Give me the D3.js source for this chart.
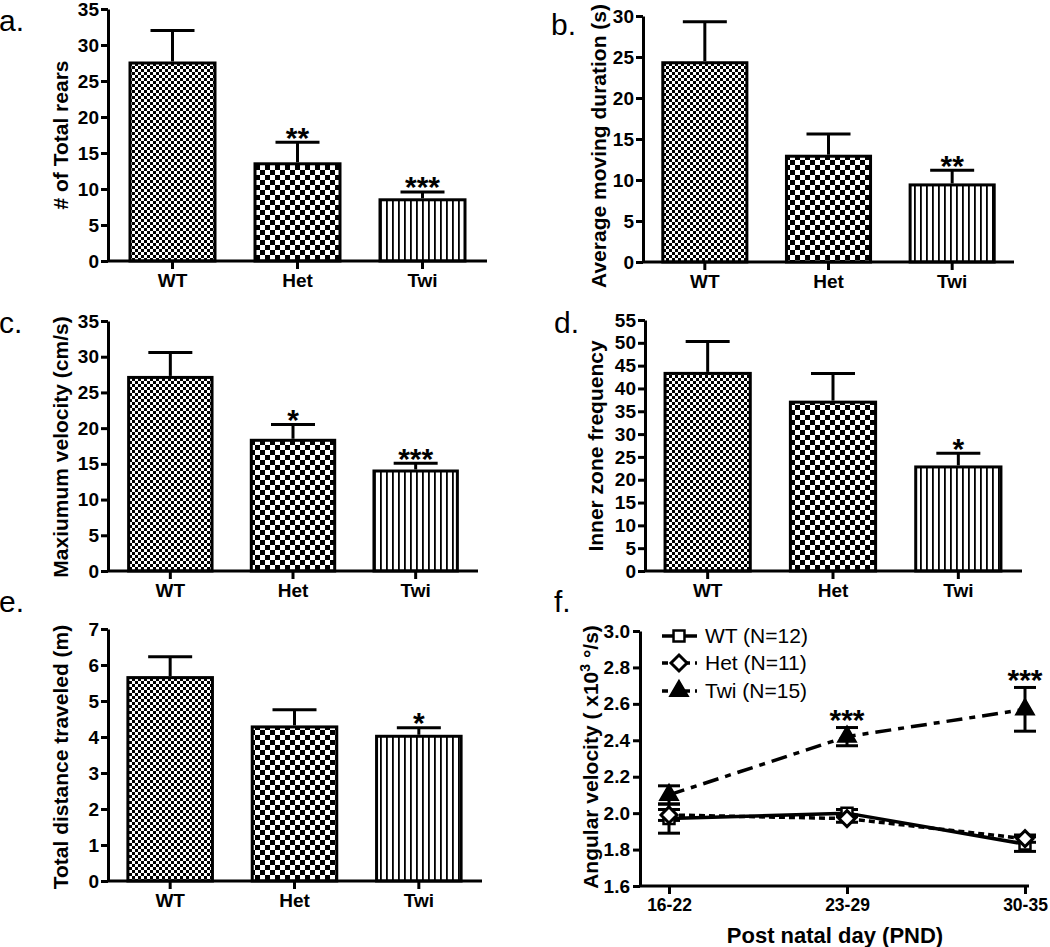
<!DOCTYPE html>
<html>
<head>
<meta charset="utf-8">
<script src="https://cdn.jsdelivr.net/npm/d3@7"></script>
<style>
  html, body { margin: 0; padding: 0; background: #fff; }
  svg { display: block; }
</style>
</head>
<body>
<div id="chart"></div>
<script>
// ---- data ----
const groups = ['WT', 'Het', 'Twi'];

const rearsMean = [27.5, 13.5, 8.5];
const rearsErr = [4.5, 3.0, 1.1];
const rearsStars = ['', '**', '***'];

const durationMean = [24.3, 12.9, 9.4];
const durationErr = [5.0, 2.7, 1.8];
const durationStars = ['', '', '**'];

const velocityMean = [27.1, 18.3, 14.0];
const velocityErr = [3.5, 2.2, 1.1];
const velocityStars = ['', '*', '***'];

const innerMean = [43.3, 37.0, 22.8];
const innerErr = [7.0, 6.3, 3.0];
const innerStars = ['', '', '*'];

const distanceMean = [5.65, 4.28, 4.02];
const distanceErr = [0.58, 0.48, 0.24];
const distanceStars = ['', '', '*'];

const pndLabels = ['16-22', '23-29', '30-35'];
const wtAngular = [1.97, 2.00, 1.83];
const wtAngularErr = [0.08, 0.02, 0.04];
const hetAngular = [1.99, 1.97, 1.86];
const hetAngularErr = [0.03, 0.02, 0.02];
const twiAngular = [2.10, 2.42, 2.57];
const twiAngularErr = [0.05, 0.05, 0.12];
const twiAngularStars = ['', '***', '***'];
const legendLabels = ['WT (N=12)', 'Het (N=11)', 'Twi (N=15)'];

// ---- setup ----
const FONT = 'Arial, "Liberation Sans", Helvetica, sans-serif';
const W = 1050, H = 947;
const TICK_FS = 19, TITLE_FS = 21, STAR_FS = 30;
const svg = d3.select('#chart').append('svg')
    .attr('width', W)
    .attr('height', H)
    .style('font-family', FONT);

const defs = svg.append('defs');
// fine checker (WT)
const p1 = defs.append('pattern').attr('id', 'checkFine')
    .attr('patternUnits', 'userSpaceOnUse').attr('width', 6).attr('height', 6);
p1.append('rect').attr('width', 6).attr('height', 6).attr('fill', '#fff');
p1.append('rect').attr('width', 3).attr('height', 3).attr('fill', '#000');
p1.append('rect').attr('x', 3).attr('y', 3).attr('width', 3).attr('height', 3).attr('fill', '#000');
// coarse checker (Het)
const p2 = defs.append('pattern').attr('id', 'checkCoarse')
    .attr('patternUnits', 'userSpaceOnUse').attr('width', 10).attr('height', 10);
p2.append('rect').attr('width', 10).attr('height', 10).attr('fill', '#fff');
p2.append('rect').attr('width', 5).attr('height', 5).attr('fill', '#000');
p2.append('rect').attr('x', 5).attr('y', 5).attr('width', 5).attr('height', 5).attr('fill', '#000');
// vertical lines (Twi)
const p3 = defs.append('pattern').attr('id', 'vlines')
    .attr('patternUnits', 'userSpaceOnUse').attr('width', 6).attr('height', 6);
p3.append('rect').attr('width', 6).attr('height', 6).attr('fill', '#fff');
p3.append('rect').attr('x', 2).attr('width', 1.8).attr('height', 6).attr('fill', '#000');

const fills = ['url(#checkFine)', 'url(#checkCoarse)', 'url(#vlines)'];

function styleAxis(g, fs) {
    g.selectAll('path, line').attr('stroke', '#000').attr('stroke-width', 3);
    g.selectAll('text').attr('fill', '#000').style('font-weight', 'bold').style('font-size', (fs || TICK_FS) + 'px');
}

// asterisk glyph sits high in the em box; shift baseline so its centre lands on cy
const starBase = cy => cy + 0.58 * STAR_FS;

function barPanel(cfg) {
    const g = svg.append('g');
    const y = d3.scaleLinear().domain([0, cfg.max]).range([cfg.bottom, cfg.top]);
    const x = d3.scaleBand().domain(groups).range(cfg.band).paddingInner(0.32).paddingOuter(0.16);
    const data = groups.map((k, i) => ({ k, v: cfg.mean[i], e: cfg.err[i], s: cfg.stars[i], f: fills[i] }));

    g.selectAll('rect.bar').data(data).enter().append('rect')
        .attr('class', 'bar')
        .attr('x', d => x(d.k))
        .attr('y', d => y(d.v))
        .attr('width', x.bandwidth())
        .attr('height', d => y(0) - y(d.v))
        .attr('fill', d => d.f)
        .attr('stroke', '#000')
        .attr('stroke-width', 3);

    const cx = d => x(d.k) + x.bandwidth() / 2;
    g.selectAll('line.err').data(data).enter().append('line')
        .attr('x1', cx).attr('x2', cx)
        .attr('y1', d => y(d.v) - 1.5).attr('y2', d => y(d.v + d.e))
        .attr('stroke', '#000').attr('stroke-width', 3);
    g.selectAll('line.cap').data(data).enter().append('line')
        .attr('x1', d => cx(d) - 22).attr('x2', d => cx(d) + 22)
        .attr('y1', d => y(d.v + d.e)).attr('y2', d => y(d.v + d.e))
        .attr('stroke', '#000').attr('stroke-width', 3);
    g.selectAll('text.star').data(data.filter(d => d.s)).enter().append('text')
        .attr('x', cx)
        .attr('y', d => starBase(y(d.v + d.e) - 12))
        .attr('text-anchor', 'middle')
        .style('font-size', STAR_FS + 'px').style('font-weight', 'bold')
        .text(d => d.s);

    const yAxis = d3.axisLeft(y)
        .tickValues(d3.range(0, cfg.max + cfg.step / 2, cfg.step))
        .tickFormat(d3.format('d'))
        .tickSize(7).tickSizeOuter(0).tickPadding(2);
    g.append('g').attr('transform', `translate(${cfg.left},0)`).call(yAxis).call(styleAxis);

    g.append('line')
        .attr('x1', cfg.left).attr('x2', cfg.right)
        .attr('y1', cfg.bottom).attr('y2', cfg.bottom)
        .attr('stroke', '#000').attr('stroke-width', 3);
    const xAxis = d3.axisBottom(x).tickSize(8).tickPadding(5);
    g.append('g').attr('transform', `translate(0,${cfg.bottom})`).call(xAxis)
        .call(a => a.select('.domain').remove())
        .call(styleAxis);

    g.append('text')
        .attr('transform', `translate(${cfg.tx},${cfg.ty}) rotate(-90)`)
        .attr('text-anchor', 'middle').attr('dy', '0.36em')
        .style('font-size', TITLE_FS + 'px').style('font-weight', 'bold')
        .text(cfg.title);
    svg.append('text')
        .attr('x', cfg.lx).attr('y', cfg.ly)
        .style('font-size', '30px')
        .text(cfg.label);
}

barPanel({ label: 'a.', lx: -1, ly: 31, mean: rearsMean, err: rearsErr, stars: rearsStars,
    title: '# of Total rears', tx: 60, ty: 135,
    left: 108, right: 487, top: 9, bottom: 261, band: [110, 485], max: 35, step: 5 });
barPanel({ label: 'b.', lx: 551, ly: 35, mean: durationMean, err: durationErr, stars: durationStars,
    title: 'Average moving duration (s)', tx: 598, ty: 146,
    left: 643, right: 1014, top: 16, bottom: 262, band: [643, 1014], max: 30, step: 5 });
barPanel({ label: 'c.', lx: -1, ly: 333, mean: velocityMean, err: velocityErr, stars: velocityStars,
    title: 'Maxiumum velocity (cm/s)', tx: 60, ty: 447,
    left: 108, right: 478, top: 321, bottom: 571, band: [109, 477], max: 35, step: 5 });
barPanel({ label: 'd.', lx: 554, ly: 333, mean: innerMean, err: innerErr, stars: innerStars,
    title: 'Inner zone frequency', tx: 595, ty: 446,
    left: 645, right: 1022, top: 320, bottom: 571, band: [645, 1021], max: 55, step: 5 });
barPanel({ label: 'e.', lx: -1, ly: 612, mean: distanceMean, err: distanceErr, stars: distanceStars,
    title: 'Total distance traveled (m)', tx: 60, ty: 757,
    left: 108, right: 482, top: 629, bottom: 881, band: [108, 481], max: 7, step: 1 });

// ---- panel f: line chart ----
(function () {
    const g = svg.append('g');
    const left = 640, right = 1029, top = 631, bottom = 886;
    const x = d3.scalePoint().domain(pndLabels).range([669, 1025]);
    const y = d3.scaleLinear().domain([1.6, 3.0]).range([bottom, top]);

    const series = [
        { name: 'WT', vals: wtAngular, errs: wtAngularErr, dash: null, sym: 'square' },
        { name: 'Het', vals: hetAngular, errs: hetAngularErr, dash: '6,4', sym: 'diamond' },
        { name: 'Twi', vals: twiAngular, errs: twiAngularErr, dash: '16,7,6,7', sym: 'triangle' }
    ];

    const line = d3.line().x(d => x(d.k)).y(d => y(d.v));
    series.forEach(s => {
        const pts = pndLabels.map((k, i) => ({ k, v: s.vals[i], e: s.errs[i] }));
        g.append('path').datum(pts)
            .attr('d', line)
            .attr('fill', 'none').attr('stroke', '#000').attr('stroke-width', 3.5)
            .attr('stroke-dasharray', s.dash);
        s.pts = pts;
    });

    function marker(sel, sym) {
        if (sym === 'square') {
            sel.append('path').attr('d', d3.symbol(d3.symbolSquare, 120)())
                .attr('fill', '#fff').attr('stroke', '#000').attr('stroke-width', 2.5);
        } else if (sym === 'diamond') {
            sel.append('path').attr('d', 'M0,-8L8,0L0,8L-8,0Z')
                .attr('fill', '#fff').attr('stroke', '#000').attr('stroke-width', 3);
        } else {
            sel.append('path').attr('d', d3.symbol(d3.symbolTriangle, 150)())
                .attr('fill', '#000').attr('stroke', '#000').attr('stroke-width', 1.5);
        }
    }

    series.forEach(s => {
        const eg = g.append('g');
        s.pts.forEach(p => {
            const px = x(p.k);
            eg.append('line').attr('x1', px).attr('x2', px)
                .attr('y1', y(p.v - p.e)).attr('y2', y(p.v + p.e))
                .attr('stroke', '#000').attr('stroke-width', 3);
            [p.v - p.e, p.v + p.e].forEach(v => {
                eg.append('line').attr('x1', px - 11).attr('x2', px + 11)
                    .attr('y1', y(v)).attr('y2', y(v))
                    .attr('stroke', '#000').attr('stroke-width', 3);
            });
        });
    });
    series.forEach(s => {
        s.pts.forEach(p => {
            const mg = g.append('g').attr('transform', `translate(${x(p.k)},${y(p.v)})`);
            marker(mg, s.sym);
        });
    });

    const twiPts = pndLabels.map((k, i) => ({ k, top: twiAngular[i] + twiAngularErr[i], s: twiAngularStars[i] }));
    g.selectAll('text.star').data(twiPts.filter(d => d.s)).enter().append('text')
        .attr('x', d => x(d.k))
        .attr('y', d => starBase(y(d.top) - 15))
        .attr('text-anchor', 'middle')
        .style('font-size', STAR_FS + 'px').style('font-weight', 'bold')
        .text(d => d.s);

    const yAxis = d3.axisLeft(y).tickValues(d3.range(1.6, 3.01, 0.2))
        .tickFormat(d3.format('.1f')).tickSize(7).tickSizeOuter(0).tickPadding(3);
    g.append('g').attr('transform', `translate(${left},0)`).call(yAxis).call(styleAxis);

    g.append('line').attr('x1', left).attr('x2', right)
        .attr('y1', bottom).attr('y2', bottom)
        .attr('stroke', '#000').attr('stroke-width', 3);
    const xAxis = d3.axisBottom(x).tickSize(8).tickPadding(5);
    g.append('g').attr('transform', `translate(0,${bottom})`).call(xAxis)
        .call(a => a.select('.domain').remove())
        .call(a => styleAxis(a, 17.5));

    g.append('text').attr('x', 835).attr('y', 935).attr('dy', '0.36em')
        .attr('text-anchor', 'middle')
        .style('font-size', '22px').style('font-weight', 'bold')
        .text('Post natal day (PND)');

    const yt = g.append('text')
        .attr('transform', 'translate(590,757) rotate(-90)')
        .attr('text-anchor', 'middle').attr('dy', '0.36em')
        .style('font-size', TITLE_FS + 'px').style('font-weight', 'bold');
    yt.append('tspan').text('Angular velocity ( x10');
    yt.append('tspan').attr('baseline-shift', 'super').style('font-size', '14px').text('3');
    yt.append('tspan').text(' °/s)');

    // legend
    const legY = [636, 663, 691];
    series.forEach((s, i) => {
        const lg = g.append('g').attr('transform', `translate(0,${legY[i]})`);
        lg.append('line').attr('x1', 662).attr('x2', 697).attr('y1', 0).attr('y2', 0)
            .attr('stroke', '#000').attr('stroke-width', 3.5)
            .attr('stroke-dasharray', s.dash ? '6,5' : null);
        marker(lg.append('g').attr('transform', 'translate(679,0)'), s.sym);
        lg.append('text').attr('x', 705).attr('y', 0).attr('dy', '0.35em')
            .style('font-size', '21px')
            .text(legendLabels[i]);
    });

    svg.append('text').attr('x', 554).attr('y', 612).style('font-size', '30px').text('f.');
})();
</script>
</body>
</html>
